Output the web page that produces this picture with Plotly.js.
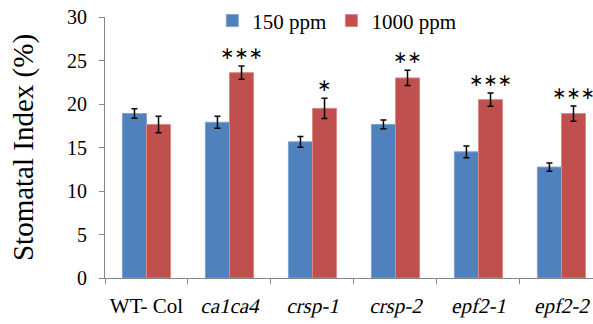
<!DOCTYPE html>
<html>
<head>
<meta charset="utf-8">
<script src="https://cdn.plot.ly/plotly-3.0.1.min.js"></script>
<style>html,body{margin:0;padding:0;background:#fff}#chart{width:593px;height:324px}</style>
</head>
<body>
<div id="chart"></div>
<script>
const categories = ["WT- Col", "ca1ca4", "crsp-1", "crsp-2", "epf2-1", "epf2-2"];
const tickLabels = ["WT- Col", "<i>ca1ca4</i>", "<i>crsp-1</i>", "<i>crsp-2</i>", "<i>epf2-1</i>", "<i>epf2-2</i>"];
const seriesNames = ["150 ppm", "1000 ppm"];
const values150 = [18.9, 17.9, 15.65, 17.65, 14.5, 12.75];
const errors150 = [0.55, 0.7, 0.62, 0.5, 0.68, 0.47];
const values1000 = [17.65, 23.6, 19.5, 23.0, 20.5, 18.9];
const errors1000 = [0.95, 0.76, 1.17, 0.87, 0.77, 0.87];
const significance = ["", "***", "*", "**", "***", "***"];

const serif = "Liberation Serif";

const traces = [
  {type: "bar", name: seriesNames[0], x: categories, y: values150,
   marker: {color: "#4F81BD", line: {color: "#7FA3D0", width: 1}},
   error_y: {type: "data", array: errors150, visible: true, color: "#000", thickness: 1.5, width: 3}},
  {type: "bar", name: seriesNames[1], x: categories, y: values1000,
   marker: {color: "#C0504D", line: {color: "#D98886", width: 1}},
   error_y: {type: "data", array: errors1000, visible: true, color: "#000", thickness: 1.5, width: 3}}
];

const annotations = categories.map((c, i) => ({
  x: c, y: values1000[i] + errors1000[i], xref: "x", yref: "y",
  text: significance[i].replace(/\*/g, "\u2217"),
  showarrow: false, yanchor: "bottom", yshift: 1, xshift: 12,
  font: {family: "DejaVu Sans", size: 17, color: "#000"}
})).filter(a => a.text);

const layout = {
  width: 593, height: 324,
  margin: {l: 105, r: 0, t: 14, b: 46},
  paper_bgcolor: "#fff", plot_bgcolor: "#fff",
  barmode: "group", bargap: 0.42, bargroupgap: 0,
  font: {family: serif, color: "#000"},
  showlegend: true,
  legend: {orientation: "h", x: 0.475, xanchor: "center", y: 0.985, yanchor: "middle",
           font: {family: serif, size: 21, color: "#000"}, bgcolor: "rgba(0,0,0,0)"},
  xaxis: {type: "category", range: [-0.5, 5.38], tickvals: categories, ticktext: tickLabels,
          showline: true, linecolor: "#868686", linewidth: 1, ticks: "outside", tickson: "boundaries",
          ticklen: 5, tickcolor: "#868686", showgrid: false, zeroline: false,
          tickfont: {family: serif, size: 21, color: "#000"}, ticklabelstandoff: 9},
  yaxis: {range: [0, 30], dtick: 5, showline: true, linecolor: "#868686", linewidth: 1,
          ticks: "outside", ticklen: 5, tickcolor: "#868686", showgrid: false, zeroline: false,
          tickfont: {family: serif, size: 20, color: "#000"}, ticklabelstandoff: 8,
          title: {text: "Stomatal Index (%)", font: {family: serif, size: 29, color: "#000"}, standoff: 24}},
  annotations: annotations
};

// No serif italic face is installed: draw the serif upright glyphs and slant them instead.
function slantItalicTicks() {
  document.querySelectorAll("#chart .xtick text").forEach(t => {
    const spans = t.querySelectorAll("tspan");
    let italic = false;
    spans.forEach(s => {
      if ((s.getAttribute("style") || "").indexOf("italic") >= 0) {
        italic = true;
        s.style.fontStyle = "normal";
      }
    });
    if (!italic) return;
    const x = parseFloat(t.getAttribute("x")) || 0;
    const y = parseFloat(t.getAttribute("y")) || 0;
    const base = t.getAttribute("transform") || "";
    t.setAttribute("transform", base + ` translate(${x},${y}) skewX(-13) translate(${-x},${-y})`);
  });
}

Plotly.newPlot("chart", traces, layout, {displayModeBar: false, staticPlot: true}).then(slantItalicTicks);
</script>
</body>
</html>
